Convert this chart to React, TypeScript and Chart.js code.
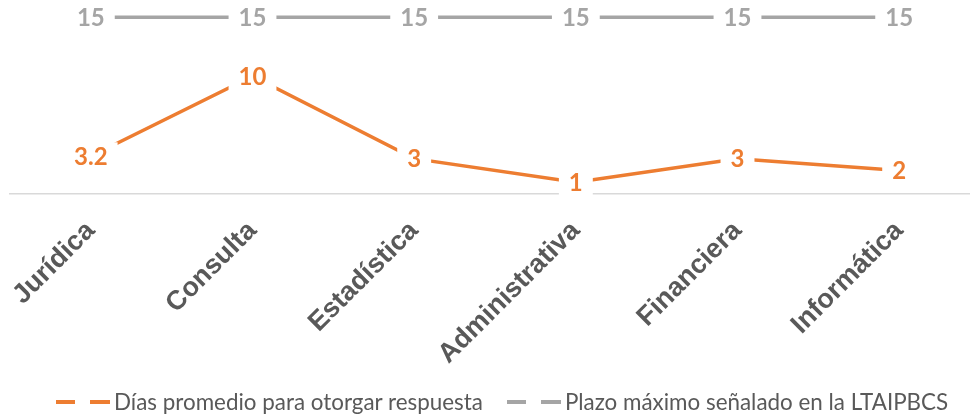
import React, { useEffect, useRef } from "react";
import { Chart, registerables } from "chart.js";

Chart.register(...registerables);

const categories = ["Jurídica", "Consulta", "Estadística", "Administrativa", "Financiera", "Informática"];
const diasPromedio = [3.2, 10, 3, 1, 3, 2];
const plazoMaximo = [15, 15, 15, 15, 15, 15];
const seriesLabels = ["Días promedio para otorgar respuesta", "Plazo máximo señalado en la LTAIPBCS"];
const seriesColors = ["#ED7D31", "#A5A5A5"];
const yMin = 0;
const yMax = 16;

const labelPlugin = {
  id: "pointLabels",
  afterDatasetsDraw(chart: any) {
    const ctx = chart.ctx;
    ctx.save();
    ctx.font = "bold 24px Lato, 'Open Sans', sans-serif";
    ctx.textAlign = "center";
    ctx.textBaseline = "middle";
    chart.data.datasets.forEach((ds: any, di: number) => {
      const meta = chart.getDatasetMeta(di);
      meta.data.forEach((pt: any, i: number) => {
        const text = String(ds.data[i]);
        const w = ctx.measureText(text).width + 20;
        const h = 28;
        ctx.fillStyle = "#FFFFFF";
        ctx.fillRect(pt.x - w / 2, pt.y - h / 2, w, h);
        ctx.fillStyle = ds.borderColor;
        ctx.fillText(text, pt.x, pt.y + 1);
      });
    });
    ctx.restore();
  },
};

export default function App() {
  const canvasRef = useRef<HTMLCanvasElement | null>(null);

  useEffect(() => {
    if (!canvasRef.current) return;
    const chart = new Chart(canvasRef.current, {
      type: "line",
      data: {
        labels: categories,
        datasets: [
          {
            label: seriesLabels[0],
            data: diasPromedio,
            borderColor: seriesColors[0],
            backgroundColor: seriesColors[0],
            borderWidth: 3.5,
            pointRadius: 0,
            tension: 0,
          },
          {
            label: seriesLabels[1],
            data: plazoMaximo,
            borderColor: seriesColors[1],
            backgroundColor: seriesColors[1],
            borderWidth: 3.5,
            pointRadius: 0,
            tension: 0,
          },
        ],
      },
      options: {
        animation: false,
        responsive: false,
        maintainAspectRatio: false,
        layout: { padding: { left: 10, right: 0, top: 5.5, bottom: 0 } },
        plugins: {
          legend: { display: false },
          tooltip: { enabled: false },
        },
        scales: {
          x: {
            offset: true,
            grid: { display: false },
            border: { display: true, color: "#D9D9D9", width: 1.5 },
            ticks: {
              autoSkip: false,
              maxRotation: 45,
              minRotation: 45,
              padding: 13,
              color: "#595959",
              font: { family: "'Liberation Sans'", weight: "bold", size: 27 },
            },
            afterFit(scale: any) {
              scale.height = 223;
            },
          },
          y: {
            display: false,
            min: yMin,
            max: yMax,
          },
        },
      },
      plugins: [labelPlugin],
    });
    return () => chart.destroy();
  }, []);

  const dash = (color: string) => (
    <span style={{ display: "inline-flex", alignItems: "center", gap: 15, marginRight: 4 }}>
      <span style={{ display: "inline-block", width: 19, height: 4, background: color }} />
      <span style={{ display: "inline-block", width: 20, height: 4, background: color }} />
    </span>
  );

  return (
    <div style={{ position: "fixed", left: 0, top: 0, width: 980, height: 417, background: "#FFFFFF" }}>
      <canvas ref={canvasRef} width={980} height={417} style={{ display: "block" }} />
      <div
        style={{
          position: "absolute",
          left: 56,
          top: 390,
          height: 24,
          lineHeight: "24px",
          display: "flex",
          alignItems: "center",
          fontFamily: "Lato, 'Open Sans', sans-serif",
          fontSize: 22.4,
          color: "#595959",
          whiteSpace: "nowrap",
        }}
      >
        {seriesLabels.map((lbl, i) => (
          <span key={lbl} style={{ display: "inline-flex", alignItems: "center", marginRight: i === 0 ? 24 : 0 }}>
            {dash(seriesColors[i])}
            <span>{lbl}</span>
          </span>
        ))}
      </div>
    </div>
  );
}
